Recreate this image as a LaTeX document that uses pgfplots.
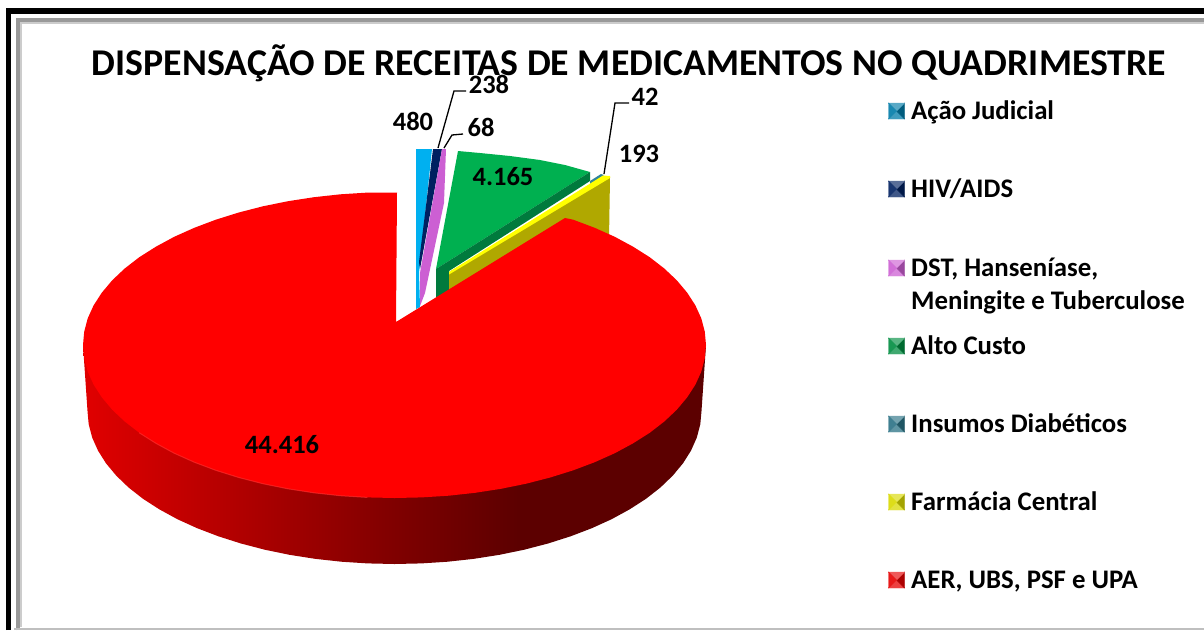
\documentclass[border=0pt]{standalone}
\usepackage{fontspec}
\setmainfont{Carlito}
\usepackage{pgfplots}
\pgfplotsset{compat=1.18}
\definecolor{cjudicial}{HTML}{00B0F0}
\definecolor{chiv}{HTML}{002060}
\definecolor{cdst}{HTML}{CC5FD3}
\definecolor{calto}{HTML}{00B050}
\definecolor{caltodark}{HTML}{007A3D}
\definecolor{cinsumos}{HTML}{31859C}
\definecolor{cfarm}{HTML}{FFFF00}
\definecolor{cfarmdark}{HTML}{B0A800}
\definecolor{caer}{HTML}{FF0000}
\tikzset{
  lab/.style={font=\fontsize{26.5}{28}\selectfont\bfseries, text=black, inner sep=0pt},
  leg/.style={font=\fontsize{26.8}{28}\selectfont\bfseries, text=black, inner sep=0pt, anchor=base west},
}
% side wall of the big slice, dark towards the right
\pgfdeclarehorizontalshading{wall}{100bp}{
  color(0bp)=(red!88!black);
  color(25bp)=(red!88!black);
  color(37bp)=(red!70!black);
  color(50bp)=(red!50!black);
  color(60bp)=(red!36!black);
  color(75bp)=(red!36!black);
  color(100bp)=(red!36!black)}
% bevelled legend squares
\newcommand\defbevel[2]{%
  \pgfdeclareplotmark{#1}{%
    \fill[#2!75!white] (-8,8) -- (8,8) -- (0,0) -- cycle;
    \fill[#2!75!black] (8,8) -- (8,-8) -- (0,0) -- cycle;
    \fill[#2!65!white] (-8,-8) -- (8,-8) -- (0,0) -- cycle;
    \fill[#2!90!white] (-8,8) -- (-8,-8) -- (0,0) -- cycle;
  }}
\defbevel{bjud}{cjudicial!70!black}
\defbevel{bhiv}{chiv}
\defbevel{bdst}{cdst}
\defbevel{balto}{calto!80!black}
\defbevel{bins}{cinsumos!85!black}
\defbevel{bfarm}{cfarm!85!black}
\defbevel{baer}{caer!90!black}
\begin{document}
\begin{tikzpicture}
\begin{axis}[
  width=1204pt, height=630pt, scale only axis,
  xmin=0, xmax=1204, ymin=0, ymax=630, y dir=reverse,
  hide axis, clip=true,
  every axis plot/.append style={forget plot},
]
% keeps the page as large as the whole axis
\addplot[draw=none] coordinates {(0,0)(1204,630)};
% frame
\addplot[draw=black, line width=5.5pt] coordinates {(8.5,630)(8.5,11)(1204,11)};
\addplot[draw=gray!80, line width=3.5pt] coordinates {(18,630)(18,20)(1204,20)};
\addplot[draw=gray!40, line width=2.5pt] coordinates {(21,627)(21,23)(1204,23)};
\addplot[draw=gray!50, line width=2pt] coordinates {(14,628.5)(1204,628.5)};

% small slices behind the big one
\addplot[fill=cjudicial, draw=none] coordinates {(416,149)(432,149)(419,273)(420,307)(416,309)} -- cycle;
\addplot[fill=chiv, draw=none] coordinates {(433,149)(442,149)(420,269)(419,262)} -- cycle;
\addplot[fill=cdst, draw=none] coordinates {(442,149)(446,149)(444,203)(425,293)(420,306)(420,273)} -- cycle;
\addplot[fill=calto, draw=none] coordinates {(458,151)(480,153)(510,156)(540,160)(565,165)(590,172)(436,269)} -- cycle;
\addplot[fill=caltodark, draw=none] coordinates {(436,269)(590,172)(590,181)(449,271)(449,300)(436,308)} -- cycle;
\addplot[fill=cinsumos, draw=none] coordinates {(590,181)(601,174)(604,175)(597,180)(590,184)} -- cycle;
\addplot[fill=cfarmdark, draw=none] coordinates {(449,272)(610,177)(609,240)(449,300)} -- cycle;
\addplot[fill=cfarm, draw=none] coordinates {(449,272)(603,175.5)(610,176)(610,178)(449,274.5)} -- cycle;

% big slice: wall, then top
\addplot[shade, shading=wall, draw=none] coordinates {
(83,345)(87.5,411)(88.7,424.3)(92.2,437.6)(98,450.6)(106,463.3)(116.3,475.7)(128.6,487.5)(143,498.8)(159.3,509.3)
(177.4,519.2)(197.2,528.2)(218.4,536.3)(241,543.5)(264.8,549.7)(289.5,554.8)(315,558.8)(341.2,561.7)(367.7,563.4)
(394.5,564)(421.3,563.4)(447.8,561.7)(474,558.8)(499.5,554.8)(524.2,549.7)(548,543.5)(570.6,536.3)(591.8,528.2)
(611.6,519.2)(629.7,509.3)(646,498.8)(660.4,487.5)(672.7,475.7)(683,463.3)(691,450.6)(696.8,437.6)(700.3,424.3)
(701.5,411)(706,345)} -- cycle;
\addplot[fill=caer, draw=none] coordinates {
(396,322)(397,192.5)(367.3,192.6)(340.4,194.3)(313.9,197.2)(288,201.2)(262.9,206.3)(238.8,212.5)(215.8,219.7)
(194.3,227.8)(174.2,236.8)(155.9,246.7)(139.3,257.2)(124.7,268.5)(112.2,280.3)(101.8,292.7)(93.6,305.4)(87.7,318.4)
(84.2,331.7)(83,345)(84.2,358.3)(87.7,371.6)(93.6,384.6)(101.8,397.3)(112.2,409.7)(124.7,421.5)(139.3,432.8)
(155.9,443.3)(174.2,453.2)(194.3,462.2)(215.8,470.3)(238.8,477.5)(262.9,483.7)(288,488.8)(313.9,492.8)(340.4,495.7)
(367.3,497.4)(394.5,498)(421.6,497.4)(448.6,495.7)(475.1,492.8)(501,488.8)(526.1,483.7)(550.2,477.5)(573.2,470.3)
(594.7,462.2)(614.8,453.2)(633.1,443.3)(649.7,432.8)(664.3,421.5)(676.8,409.7)(687.2,397.3)(695.4,384.6)(701.3,371.6)
(704.8,358.3)(706,345)(704.8,331.7)(701.3,318.4)(695.4,305.4)(687.2,292.7)(676.8,280.3)(664.3,268.5)(649.7,257.2)
(633.1,246.7)(614.8,236.8)(594.7,227.8)(573.2,219.7)(565,218)} -- cycle;
% soft rim on the lower left edge of the top face
\addplot[draw=red!80!white, line width=1pt, opacity=0.6] coordinates {
(139.3,432.8)(155.9,443.3)(174.2,453.2)(194.3,462.2)(215.8,470.3)(238.8,477.5)(262.9,483.7)(288,488.8)(313.9,492.8)(340.4,495.7)(367.3,497.4)};

% leader lines
\addplot[draw=black, line width=1.3pt] coordinates {(438,148)(454,91)(466,91)};
\addplot[draw=black, line width=1.3pt] coordinates {(444,148)(452,135)(463,134)};
\addplot[draw=black, line width=1.3pt] coordinates {(604,174)(615,103)(629,103)};

% legend squares
\addplot[only marks, mark=bjud] coordinates {(896.5,111)};
\addplot[only marks, mark=bhiv] coordinates {(896.5,189)};
\addplot[only marks, mark=bdst] coordinates {(896.5,268)};
\addplot[only marks, mark=balto] coordinates {(896.5,346)};
\addplot[only marks, mark=bins] coordinates {(896.5,424)};
\addplot[only marks, mark=bfarm] coordinates {(896.5,502)};
\addplot[only marks, mark=baer] coordinates {(896.5,580)};

% title and labels
\node[font=\fontsize{37.8}{39}\selectfont\bfseries, inner sep=0pt] at (axis cs:629,63) {DISPENSAÇÃO DE RECEITAS DE MEDICAMENTOS NO QUADRIMESTRE};
\node[lab] at (axis cs:413,121) {480};
\node[lab] at (axis cs:489,84) {238};
\node[lab] at (axis cs:481,127) {68};
\node[lab] at (axis cs:645,97) {42};
\node[lab] at (axis cs:639,154) {193};
\node[lab] at (axis cs:503,177) {4.165};
\node[lab] at (axis cs:282,445) {44.416};

\node[leg] at (axis cs:911,119) {Ação Judicial};
\node[leg] at (axis cs:911,197) {HIV/AIDS};
\node[leg] at (axis cs:911,276) {DST, Hanseníase,};
\node[leg] at (axis cs:911,309) {Meningite e Tuberculose};
\node[leg] at (axis cs:911,354) {Alto Custo};
\node[leg] at (axis cs:911,432) {Insumos Diabéticos};
\node[leg] at (axis cs:911,510) {Farmácia Central};
\node[leg] at (axis cs:911,588) {AER, UBS, PSF e UPA};
\end{axis}
\end{tikzpicture}
\end{document}
